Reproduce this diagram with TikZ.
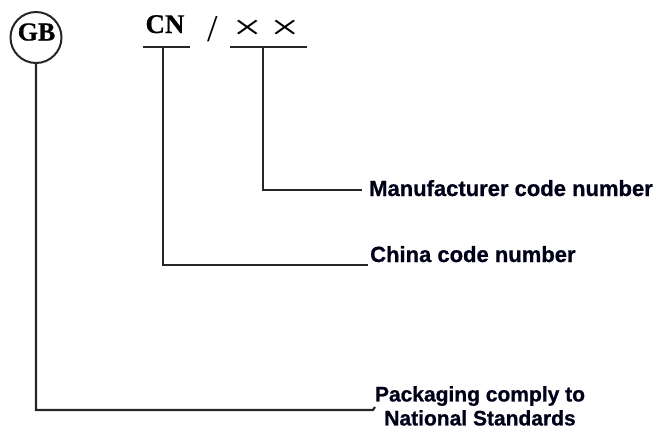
\documentclass[tikz,border=0pt]{standalone}
\usepackage{fontspec}
\setmainfont{Liberation Serif}
\newfontfamily\labfont{Liberation Sans}[BoldFont={Liberation Sans Bold},BoldFeatures={FakeBold=0.8}]
\newfontfamily\codefont{Liberation Serif}[BoldFont={Liberation Serif Bold},BoldFeatures={FakeBold=0.6}]
\begin{document}
\begin{tikzpicture}[x=1pt,y=-1pt,
  ln/.style={line width=2.1pt,draw=black!85},
  lab/.style={font=\labfont\bfseries\fontsize{22}{24}\selectfont,text=black!90!blue,inner sep=0pt,anchor=base west},
  code/.style={font=\codefont\bfseries\fontsize{27}{30}\selectfont,inner sep=0pt,anchor=base}]
\useasboundingbox (0,0) rectangle (656,432);
% GB circle
\node[circle,draw=black!85,line width=2pt,minimum size=51pt,inner sep=0pt] (gb) at (36,37.5) {};
\node[font=\codefont\bfseries\fontsize{26}{28}\selectfont,inner sep=0pt,anchor=base] (gbt) at (36.5,40.5) {GB};
% CN / xx
\node[code] (cn) at (165,33) {CN};
\node[font=\fontsize{38}{40}\selectfont,inner sep=0pt,anchor=base] (sl) at (213,41) {/};
\node[font=\fontsize{36}{40}\selectfont,inner sep=0pt,anchor=base] (xx) at (266,39) {\scalebox{1.4}[1.0]{×}\hspace{9pt}\scalebox{1.4}[1.0]{×}};
% underline coordinates
\coordinate (cnl) at (143,47);
\coordinate (cnr) at (190,47);
\coordinate (cnm) at (163,47);
\coordinate (xxl) at (230,47);
\coordinate (xxr) at (307,47);
\coordinate (xxm) at (263,47);
% labels
\node[lab] (man) at (369,196) {Manufacturer code number};
\node[lab] (chi) at (370,262) {China code number};
\node[font=\labfont\bfseries\fontsize{21}{24}\selectfont,text=black!90!blue,inner sep=0pt,align=center,anchor=north] (pack) at (480,386) {Packaging comply to\\National Standards};
\coordinate (manend) at (362,190);
\coordinate (chiend) at (368,265);
\coordinate (packend) at (373,410);
% connectors
\draw[ln] (cnl) -- (cnr);
\draw[ln] (xxl) -- (xxr);
\draw[ln] (xxm) |- (manend);
\draw[ln] (cnm) |- (chiend);
\draw[ln] (gb.south) |- (packend) -- ++(2,-3);
\end{tikzpicture}
\end{document}
